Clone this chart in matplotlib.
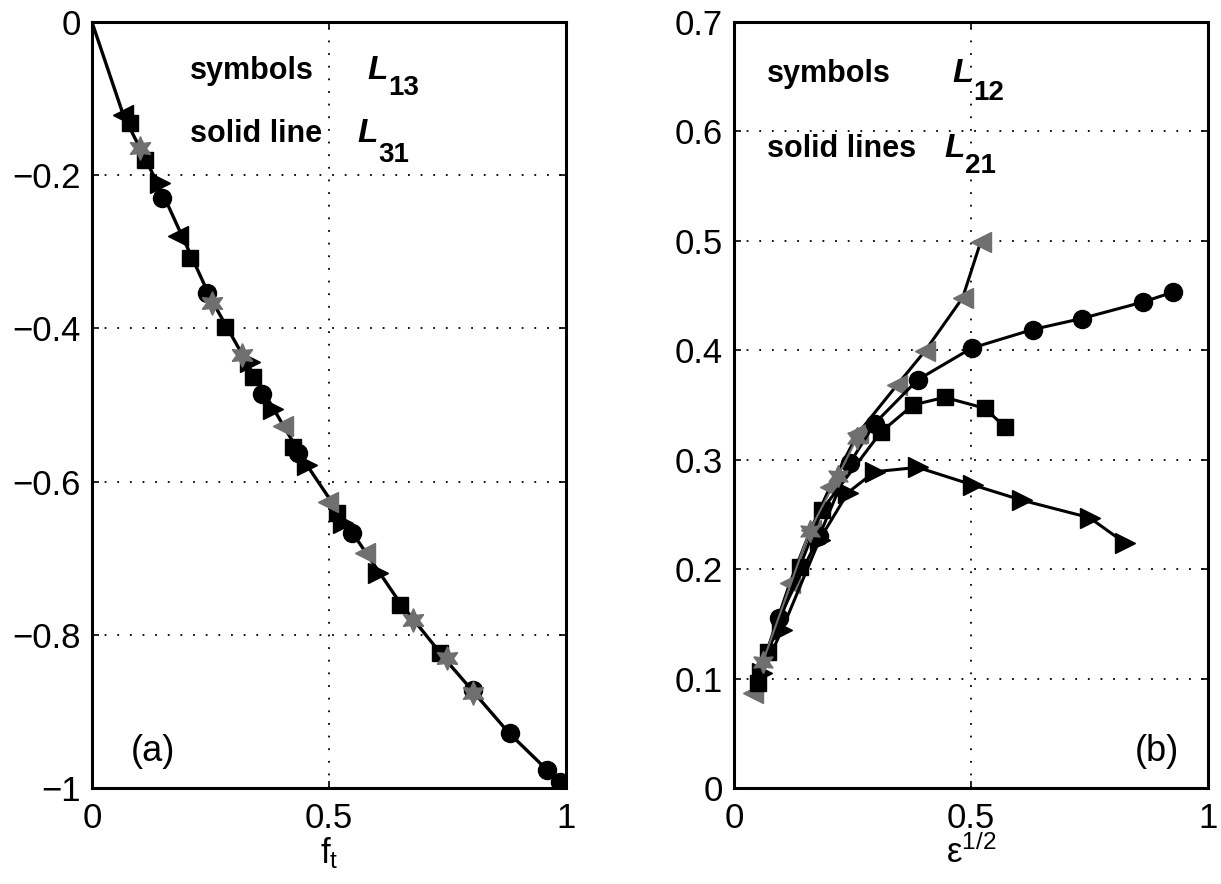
import matplotlib
matplotlib.use('Agg')
import matplotlib.pyplot as plt

plt.rcParams['font.family'] = ['Liberation Sans', 'DejaVu Sans']

GREY = '#6f6f6f'
HEX = (6, 1, 0)

# (a) symbols L13 and solid line L31
a_line_x = [0, 0.066, 0.15, 0.25, 0.35, 0.45, 0.55, 0.65, 0.75, 0.88, 0.99]
a_line_y = [0, -0.121, -0.225, -0.36, -0.47, -0.575, -0.667, -0.758, -0.835, -0.928, -0.994]
a_circ_x = [0.148, 0.243, 0.359, 0.435, 0.548, 0.804, 0.882, 0.96, 0.987]
a_circ_y = [-0.23, -0.354, -0.485, -0.563, -0.667, -0.872, -0.928, -0.976, -0.992]
a_sq_x = [0.080, 0.112, 0.207, 0.281, 0.34, 0.424, 0.517, 0.65, 0.734]
a_sq_y = [-0.132, -0.18, -0.308, -0.398, -0.463, -0.555, -0.641, -0.761, -0.824]
a_tr_x = [0.143, 0.333, 0.382, 0.453, 0.53, 0.604]
a_tr_y = [-0.21, -0.444, -0.505, -0.578, -0.654, -0.719]
a_tl_x = [0.066, 0.181]
a_tl_y = [-0.121, -0.28]
a_tlg_x = [0.403, 0.498, 0.576]
a_tlg_y = [-0.528, -0.627, -0.693]
a_hex_x = [0.101, 0.253, 0.316, 0.677, 0.749, 0.804]
a_hex_y = [-0.165, -0.367, -0.435, -0.781, -0.83, -0.876]

# (b) symbols L12 and solid lines L21
b_tl_x = [0.04, 0.118, 0.162, 0.203, 0.262, 0.344, 0.403, 0.483, 0.521]
b_tl_y = [0.087, 0.187, 0.236, 0.275, 0.324, 0.368, 0.399, 0.448, 0.499]
b_circ_x = [0.095, 0.18, 0.245, 0.297, 0.388, 0.502, 0.631, 0.734, 0.863, 0.926]
b_circ_y = [0.155, 0.23, 0.297, 0.333, 0.373, 0.402, 0.419, 0.429, 0.444, 0.453]
b_sq_x = [0.051, 0.072, 0.139, 0.186, 0.31, 0.378, 0.445, 0.530, 0.572]
b_sq_y = [0.096, 0.124, 0.202, 0.254, 0.325, 0.35, 0.357, 0.347, 0.33]
b_tr_x = [0.06, 0.101, 0.181, 0.241, 0.297, 0.388, 0.504, 0.608, 0.751, 0.825]
b_tr_y = [0.105, 0.144, 0.227, 0.27, 0.289, 0.293, 0.277, 0.263, 0.247, 0.224]
b_hex_x = [0.061, 0.16, 0.22, 0.26]
b_hex_y = [0.115, 0.235, 0.285, 0.32]

a_xticks = [0, 0.5, 1]
a_yticks = [-1, -0.8, -0.6, -0.4, -0.2, 0]
a_ylabels = ['\u22121', '\u22120.8', '\u22120.6', '\u22120.4', '\u22120.2', '0']
b_xticks = [0, 0.5, 1]
b_yticks = [0, 0.1, 0.2, 0.3, 0.4, 0.5, 0.6, 0.7]
b_ylabels = ['0', '0.1', '0.2', '0.3', '0.4', '0.5', '0.6', '0.7']
xlabels = ['0', '0.5', '1']

fig = plt.figure(figsize=(12.21, 8.84), dpi=100)
ax1 = fig.add_axes([0.0753, 0.1086, 0.388, 0.8665])
ax2 = fig.add_axes([0.601, 0.1086, 0.388, 0.8665])


def style(ax, xt, yt, yl):
    ax.set_xticks(xt)
    ax.set_xticklabels(xlabels)
    ax.set_yticks(yt)
    ax.set_yticklabels(yl)
    ax.tick_params(direction='in', length=5, width=1.2, top=True, right=True,
                   labelsize=25)
    ax.tick_params(axis='x', pad=10)
    ax.tick_params(axis='y', pad=8)
    ax.grid(True, color='k', linestyle=(0, (1, 6)), linewidth=1.3)
    for s in ax.spines.values():
        s.set_linewidth(2.2)


def label(ax, x, y, txt, lx, sub, sy):
    ax.text(x, y, txt, transform=ax.transAxes, fontsize=22, fontweight='bold')
    ax.text(lx, y, 'L', transform=ax.transAxes, fontsize=24, fontweight='bold',
            fontstyle='italic')
    # subscript placed just after the L
    ax.text(lx + 0.043, sy, sub, transform=ax.transAxes, fontsize=20, fontweight='bold')


ax1.plot(a_line_x, a_line_y, '-', color='k', lw=2.4, zorder=2)
ax1.plot(a_circ_x, a_circ_y, 'o', color='k', ms=13, zorder=3)
ax1.plot(a_sq_x, a_sq_y, 's', color='k', ms=12, zorder=3)
ax1.plot(a_tr_x, a_tr_y, '>', color='k', ms=15, zorder=3)
ax1.plot(a_tl_x, a_tl_y, '<', color='k', ms=15, zorder=3)
ax1.plot(a_tlg_x, a_tlg_y, '<', color=GREY, ms=15, zorder=3)
ax1.plot(a_hex_x, a_hex_y, marker=HEX, ls='none', color=GREY, ms=17, zorder=3)
ax1.set_xlim(0, 1)
ax1.set_ylim(-1, 0)
style(ax1, a_xticks, a_yticks, a_ylabels)
ax1.set_xlabel(r'$\mathregular{f_t}$', fontsize=25, labelpad=0)

ax2.plot(b_tl_x, b_tl_y, '-', color='k', lw=2.2, marker='<', mfc=GREY, mec=GREY, ms=15)
ax2.plot(b_circ_x, b_circ_y, '-', color='k', lw=2.2, marker='o', ms=13)
ax2.plot(b_sq_x, b_sq_y, '-', color='k', lw=2.2, marker='s', ms=12)
ax2.plot(b_tr_x, b_tr_y, '-', color='k', lw=2.2, marker='>', ms=15)
ax2.plot(b_hex_x, b_hex_y, '-', color=GREY, lw=1.5, marker=HEX, ms=16)
ax2.set_xlim(0, 1)
ax2.set_ylim(0, 0.7)
style(ax2, b_xticks, b_yticks, b_ylabels)
ax2.set_xlabel('$\\mathregular{\u03b5^{1/2}}$', fontsize=25, labelpad=0)

# annotations
label(ax1, 0.207, 0.925, 'symbols', 0.582, '13', 0.905)
label(ax1, 0.207, 0.843, 'solid line', 0.561, '31', 0.817)
ax1.text(0.129, 0.048, '(a)', transform=ax1.transAxes, fontsize=26, ha='center', va='center')

label(ax2, 0.07, 0.922, 'symbols', 0.462, '12', 0.898)
label(ax2, 0.07, 0.824, 'solid lines', 0.445, '21', 0.803)
ax2.text(0.892, 0.048, '(b)', transform=ax2.transAxes, fontsize=26, ha='center', va='center')

fig.savefig('out.png', dpi=100)
